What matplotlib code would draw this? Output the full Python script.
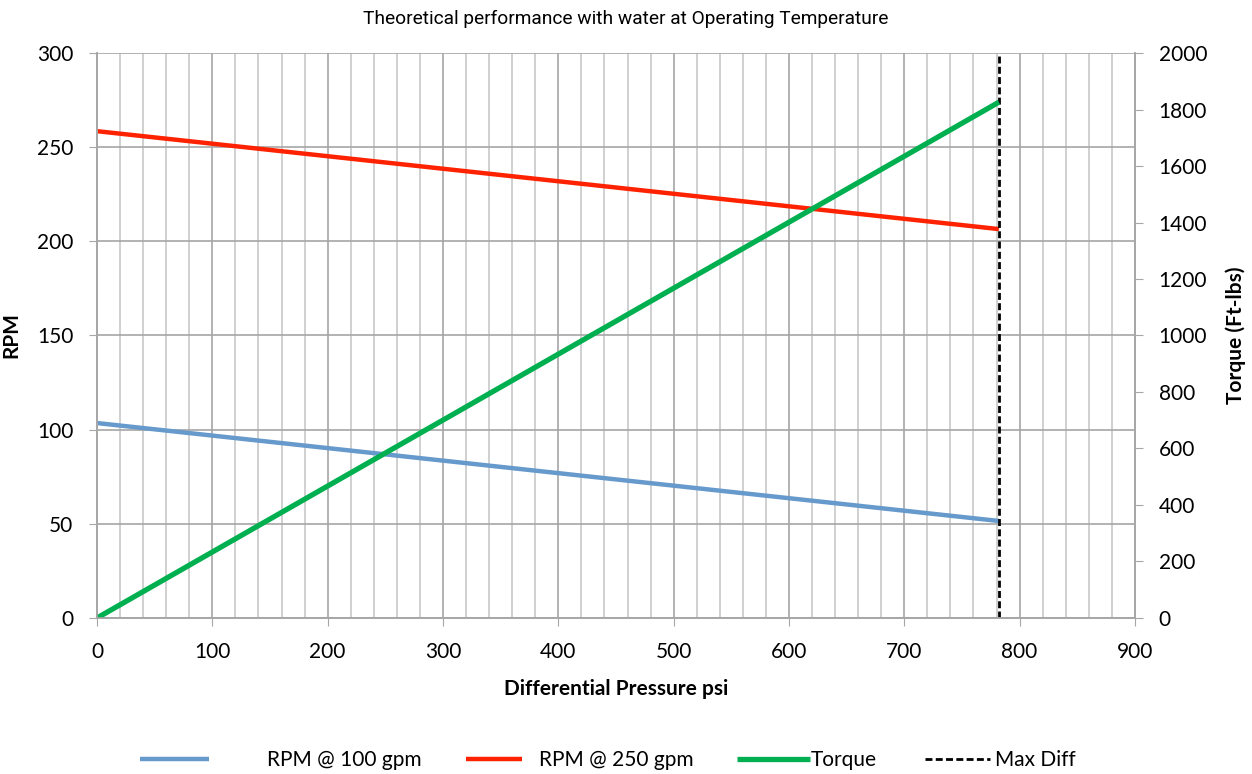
import numpy as np
import matplotlib
matplotlib.use("Agg")
import matplotlib.pyplot as plt
from matplotlib.ticker import MultipleLocator

# data
pressure = [0, 782]
rpm_100 = [103.5, 51.5]
rpm_250 = [258.5, 206.5]
torque = [0, 1826]
max_diff = 782

plt.rcParams['font.family'] = ['Lato', 'DejaVu Sans']

fig = plt.figure(figsize=(12.52, 7.74), dpi=100)
ax = fig.add_axes([0.0775, 0.2016, 0.829, 0.7299])
ax2 = ax.twinx()

grid_major = '#a6a6a6'
grid_minor = '#c8c8c8'

ax.set_xlim(0, 900)
ax.set_ylim(0, 300)
ax2.set_ylim(0, 2000)
ax.xaxis.set_major_locator(MultipleLocator(100))
ax.xaxis.set_minor_locator(MultipleLocator(20))
ax.yaxis.set_major_locator(MultipleLocator(50))
ax2.yaxis.set_major_locator(MultipleLocator(200))

ax.grid(which='minor', axis='x', color=grid_minor, lw=1.2)
ax.grid(which='major', axis='x', color=grid_major, lw=1.2)
ax.grid(which='major', axis='y', color=grid_major, lw=1.2)
ax.set_axisbelow(True)

for a in (ax, ax2):
    a.spines['top'].set_visible(False)
    for s in ('left', 'right', 'bottom'):
        a.spines[s].set_color(grid_major)
        a.spines[s].set_linewidth(1.2)
ax.tick_params(which='major', length=6, color=grid_major, labelsize=15, pad=11)
ax.tick_params(which='minor', length=0)
ax2.tick_params(length=6, color=grid_major, labelsize=15, pad=11)

l1, = ax.plot(pressure, rpm_100, color='#6699cc', lw=3.2, solid_capstyle='butt')
l2, = ax.plot(pressure, rpm_250, color='#ff2200', lw=3.2, solid_capstyle='butt')
l3, = ax2.plot(pressure, torque, color='#00b050', lw=3.8, solid_capstyle='butt')
l4 = ax.axvline(max_diff, color='black', lw=2, ls=(0, (2.5, 1.2)))

ax.set_xlabel('Differential Pressure psi', fontsize=15, fontweight='bold')
ax.set_ylabel('RPM', fontsize=15, fontweight='bold')
ax2.set_ylabel('Torque (Ft-lbs)', fontsize=15, fontweight='bold')
ax.xaxis.set_label_coords(0.5, -0.108)
ax.yaxis.set_label_coords(-0.073, 0.5)
ax2.yaxis.set_label_coords(1.087, 0.5)

fig.text(0.5, 0.975, 'Theoretical performance with water at Operating Temperature',
         ha='center', va='center', fontsize=13.8, family=['Roboto', 'DejaVu Sans'])

# Excel-style legend with uneven spacing
entries = [
    (l1, 'RPM @ 100 gpm', 140, 3.3, 2.8),
    (l2, 'RPM @ 250 gpm', 466, 2.7, 0.8),
    (l3, 'Torque', 737, 3.5, 0.05),
    (l4, 'Max Diff', 925, 3.1, 0.25),
]
for handle, text, x0, hlen, hpad in entries:
    fig.legend([handle], [text], loc='center left', bbox_to_anchor=(x0 / 1252, 0.018),
               frameon=False, fontsize=15, handlelength=hlen, handletextpad=hpad,
               borderpad=0, borderaxespad=0)

fig.savefig('out.png', dpi=100)
